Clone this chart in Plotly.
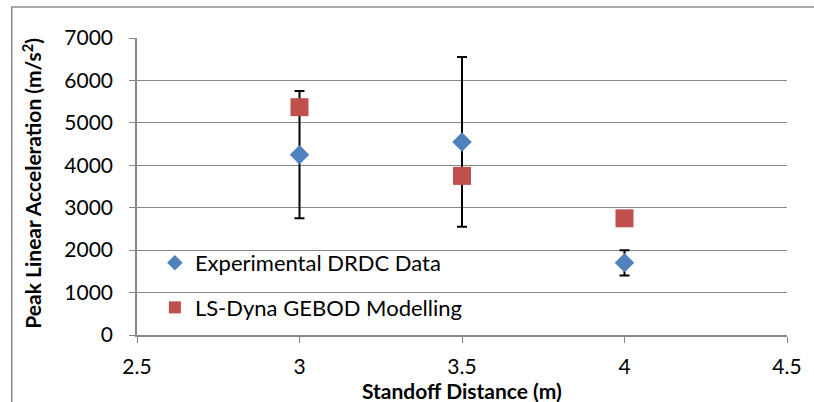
import plotly.graph_objects as go

standoff = [3.0, 3.5, 4.0]
exp_vals = [4250, 4550, 1700]
exp_err = [1500, 2000, 300]
model_vals = [5370, 3750, 2750]

x_ticks = [2.5, 3, 3.5, 4, 4.5]
y_ticks = [0, 1000, 2000, 3000, 4000, 5000, 6000, 7000]

FONT = "Lato"
W, H = 814, 402
L, R, T, B = 137, 23, 38, 67
pw, ph = W - L - R, H - T - B

def px_x(p):
    return (p - L) / pw

def px_y(p):
    return (H - B - p) / ph

fig = go.Figure()
fig.add_trace(go.Scatter(
    x=standoff, y=exp_vals, mode="markers", name="Experimental DRDC Data",
    legendgroup="a",
    marker=dict(symbol="diamond", size=15, color="#4F81BD"),
    error_y=dict(type="data", array=exp_err, visible=True, color="black",
                 thickness=2, width=5),
))
fig.add_trace(go.Scatter(
    x=standoff, y=model_vals, mode="markers", name="LS-Dyna GEBOD Modelling",
    legendgroup="b",
    marker=dict(symbol="square", size=18, color="#C0504D"),
))

# legend mask & outer border
fig.add_shape(type="rect", xref="paper", yref="paper", layer="between",
              x0=px_x(137), x1=px_x(498), y0=px_y(330), y1=px_y(228),
              fillcolor="white", line=dict(width=0))
fig.add_shape(type="rect", xref="paper", yref="paper",
              x0=px_x(11), x1=px_x(830), y0=px_y(420), y1=px_y(7),
              line=dict(color="#8C8C8C", width=1.5))

fig.update_layout(
    width=W, height=H, margin=dict(l=L, r=R, t=T, b=B),
    paper_bgcolor="white", plot_bgcolor="white",
    font=dict(family=FONT, size=21, color="black"),
    showlegend=True,
    legend=dict(x=px_x(155), y=px_y(242), xanchor="left", yanchor="top",
                bgcolor="rgba(0,0,0,0)", font=dict(size=22, family=FONT),
                tracegroupgap=13, itemsizing="constant"),
    xaxis=dict(range=[2.5, 4.5], tickvals=x_ticks, ticktext=[str(v) for v in x_ticks],
               showgrid=False, zeroline=False, showline=True, linecolor="#868686",
               linewidth=1.5, ticks="outside", ticklen=6, tickcolor="#868686",
               tickfont=dict(size=21), ticklabelstandoff=6),
    yaxis=dict(range=[0, 7000], tickvals=y_ticks, showgrid=True, gridcolor="#868686",
               gridwidth=1, zeroline=False, showline=True, linecolor="#868686",
               linewidth=1.5, ticks="outside", ticklen=6, tickcolor="#868686",
               tickfont=dict(size=21), ticklabelstandoff=12),
)
fig.add_annotation(text="<b>Standoff Distance (m)</b>", xref="paper", yref="paper",
                   x=px_x(464), y=px_y(390), xanchor="center", yanchor="middle",
                   showarrow=False, font=dict(size=21, family=FONT))
fig.add_annotation(text="<b>Peak Linear Acceleration (m/s<sup>2</sup>)</b>", xref="paper",
                   yref="paper", x=px_x(31), y=px_y(183), xanchor="center",
                   yanchor="middle", showarrow=False, textangle=-90,
                   font=dict(size=21, family=FONT))

fig.write_html("out.html")
